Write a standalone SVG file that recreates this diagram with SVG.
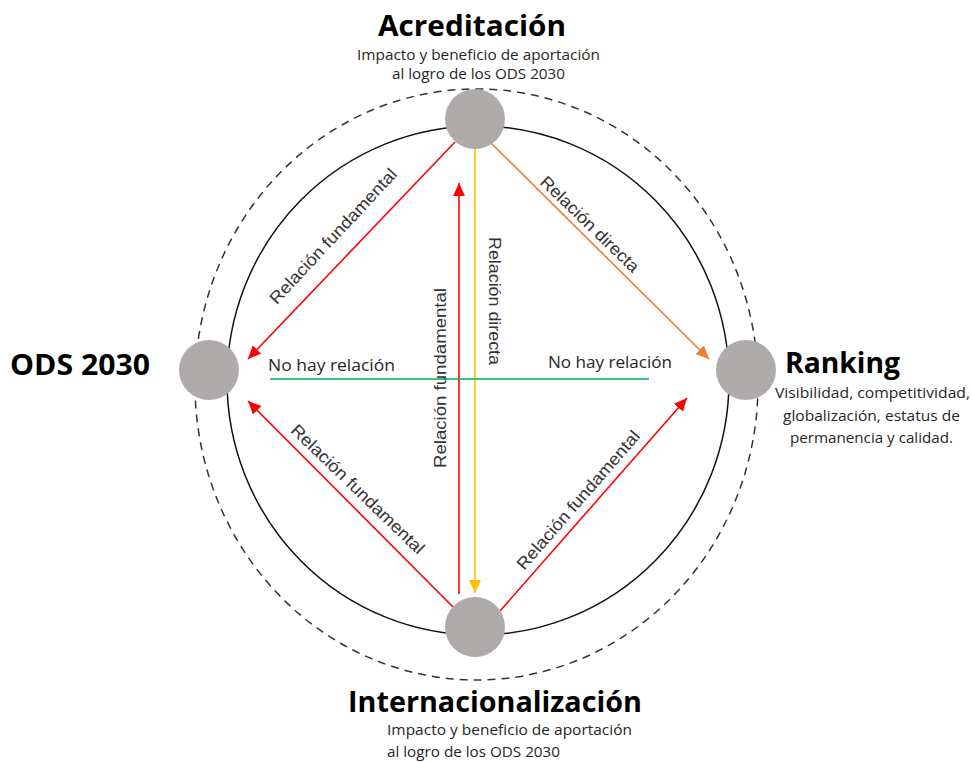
<svg xmlns="http://www.w3.org/2000/svg" width="972" height="762" viewBox="0 0 972 762">
<style>
.title{font-family:"Open Sans","Liberation Sans",sans-serif;font-weight:700;fill:#000;}
.sub{font-family:"Open Sans","Liberation Sans",sans-serif;font-size:15px;fill:#262626;}
.lbl{font-family:"Liberation Sans",Arial,sans-serif;font-size:17px;fill:#333;text-anchor:middle;}
.nohay{font-family:"Open Sans","Liberation Sans",sans-serif;font-size:16px;fill:#262626;}
.node{fill:#AFABAB;}
.conn{fill:none;stroke-width:1.6;}
</style>
<defs>
<marker id="aRed" markerUnits="userSpaceOnUse" markerWidth="14" markerHeight="12" refX="13" refY="6" orient="auto"><path d="M0,0 L13,6 L0,12 z" fill="#FF0000"/></marker>
<marker id="aOrange" markerUnits="userSpaceOnUse" markerWidth="14" markerHeight="12" refX="13" refY="6" orient="auto"><path d="M0,0 L13,6 L0,12 z" fill="#ED7D31"/></marker>
<marker id="aYellow" markerUnits="userSpaceOnUse" markerWidth="14" markerHeight="12" refX="13" refY="6" orient="auto"><path d="M0,0 L13,6 L0,12 z" fill="#FFC000"/></marker>
</defs>
<g id="rings">
<ellipse cx="476.5" cy="384.5" rx="281.5" ry="295.5" fill="none" stroke="#333" stroke-width="1.5" stroke-dasharray="8,6"/>
<ellipse cx="478" cy="380.5" rx="251" ry="254.5" fill="none" stroke="#111" stroke-width="1.5"/>
</g>
<g id="connectors">
<path class="conn" d="M455,142 L248,359" stroke="#FF0000" marker-end="url(#aRed)"/>
<path class="conn" d="M491,143 L709,359" stroke="#ED7D31" marker-end="url(#aOrange)"/>
<path class="conn" d="M475,149 L475,593" stroke="#FFC000" marker-end="url(#aYellow)"/>
<path class="conn" d="M459,594 L459,183" stroke="#FF0000" marker-end="url(#aRed)"/>
<path class="conn" d="M455,609 L248,401" stroke="#FF0000" marker-end="url(#aRed)"/>
<path class="conn" d="M500,611 L687,398" stroke="#FF0000" marker-end="url(#aRed)"/>
<path class="conn" d="M270,379 L649,379" stroke="#00B050"/>
<text class="lbl" transform="translate(333,236) rotate(-47)" y="6" textLength="178" lengthAdjust="spacingAndGlyphs">Relación fundamental</text>
<text class="lbl" transform="translate(358,489) rotate(44)" y="6" textLength="178" lengthAdjust="spacingAndGlyphs">Relación fundamental</text>
<text class="lbl" transform="translate(578,500) rotate(-49)" y="6" textLength="178" lengthAdjust="spacingAndGlyphs">Relación fundamental</text>
<text class="lbl" transform="translate(590,224) rotate(44)" y="6" textLength="130" lengthAdjust="spacingAndGlyphs">Relación directa</text>
<text class="lbl" transform="translate(495,301) rotate(90)" y="6" textLength="128" lengthAdjust="spacingAndGlyphs">Relación directa</text>
<text class="lbl" transform="translate(440,378) rotate(-90)" y="6" textLength="180" lengthAdjust="spacingAndGlyphs">Relación fundamental</text>
<text class="nohay" x="268" y="371" textLength="127" lengthAdjust="spacingAndGlyphs">No hay relación</text>
<text class="nohay" x="548" y="368" textLength="124" lengthAdjust="spacingAndGlyphs">No hay relación</text>
</g>
<g id="acreditacion">
<circle class="node" cx="475" cy="119" r="30"/>
<text class="title" x="378" y="36" font-size="29" textLength="188" lengthAdjust="spacingAndGlyphs">Acreditación</text>
<text class="sub" x="357" y="60" textLength="243" lengthAdjust="spacingAndGlyphs">Impacto y beneficio de aportación</text>
<text class="sub" x="392" y="79" textLength="173" lengthAdjust="spacingAndGlyphs">al logro de los ODS 2030</text>
</g>
<g id="ods">
<circle class="node" cx="209" cy="370" r="30"/>
<text class="title" x="10" y="375" font-size="28" textLength="140" lengthAdjust="spacingAndGlyphs">ODS 2030</text>
</g>
<g id="ranking">
<circle class="node" cx="746" cy="370" r="30"/>
<text class="title" x="785" y="373" font-size="29" textLength="115" lengthAdjust="spacingAndGlyphs">Ranking</text>
<text class="sub" x="775" y="398" textLength="195" lengthAdjust="spacingAndGlyphs">Visibilidad, competitividad,</text>
<text class="sub" x="783" y="421" textLength="177" lengthAdjust="spacingAndGlyphs">globalización, estatus de</text>
<text class="sub" x="790" y="443" textLength="163" lengthAdjust="spacingAndGlyphs">permanencia y calidad.</text>
</g>
<g id="internacionalizacion">
<circle class="node" cx="475" cy="627" r="30"/>
<text class="title" x="348" y="712" font-size="28" textLength="294" lengthAdjust="spacingAndGlyphs">Internacionalización</text>
<text class="sub" x="387" y="735" textLength="245" lengthAdjust="spacingAndGlyphs">Impacto y beneficio de aportación</text>
<text class="sub" x="387" y="757" textLength="173" lengthAdjust="spacingAndGlyphs">al logro de los ODS 2030</text>
</g>
</svg>
